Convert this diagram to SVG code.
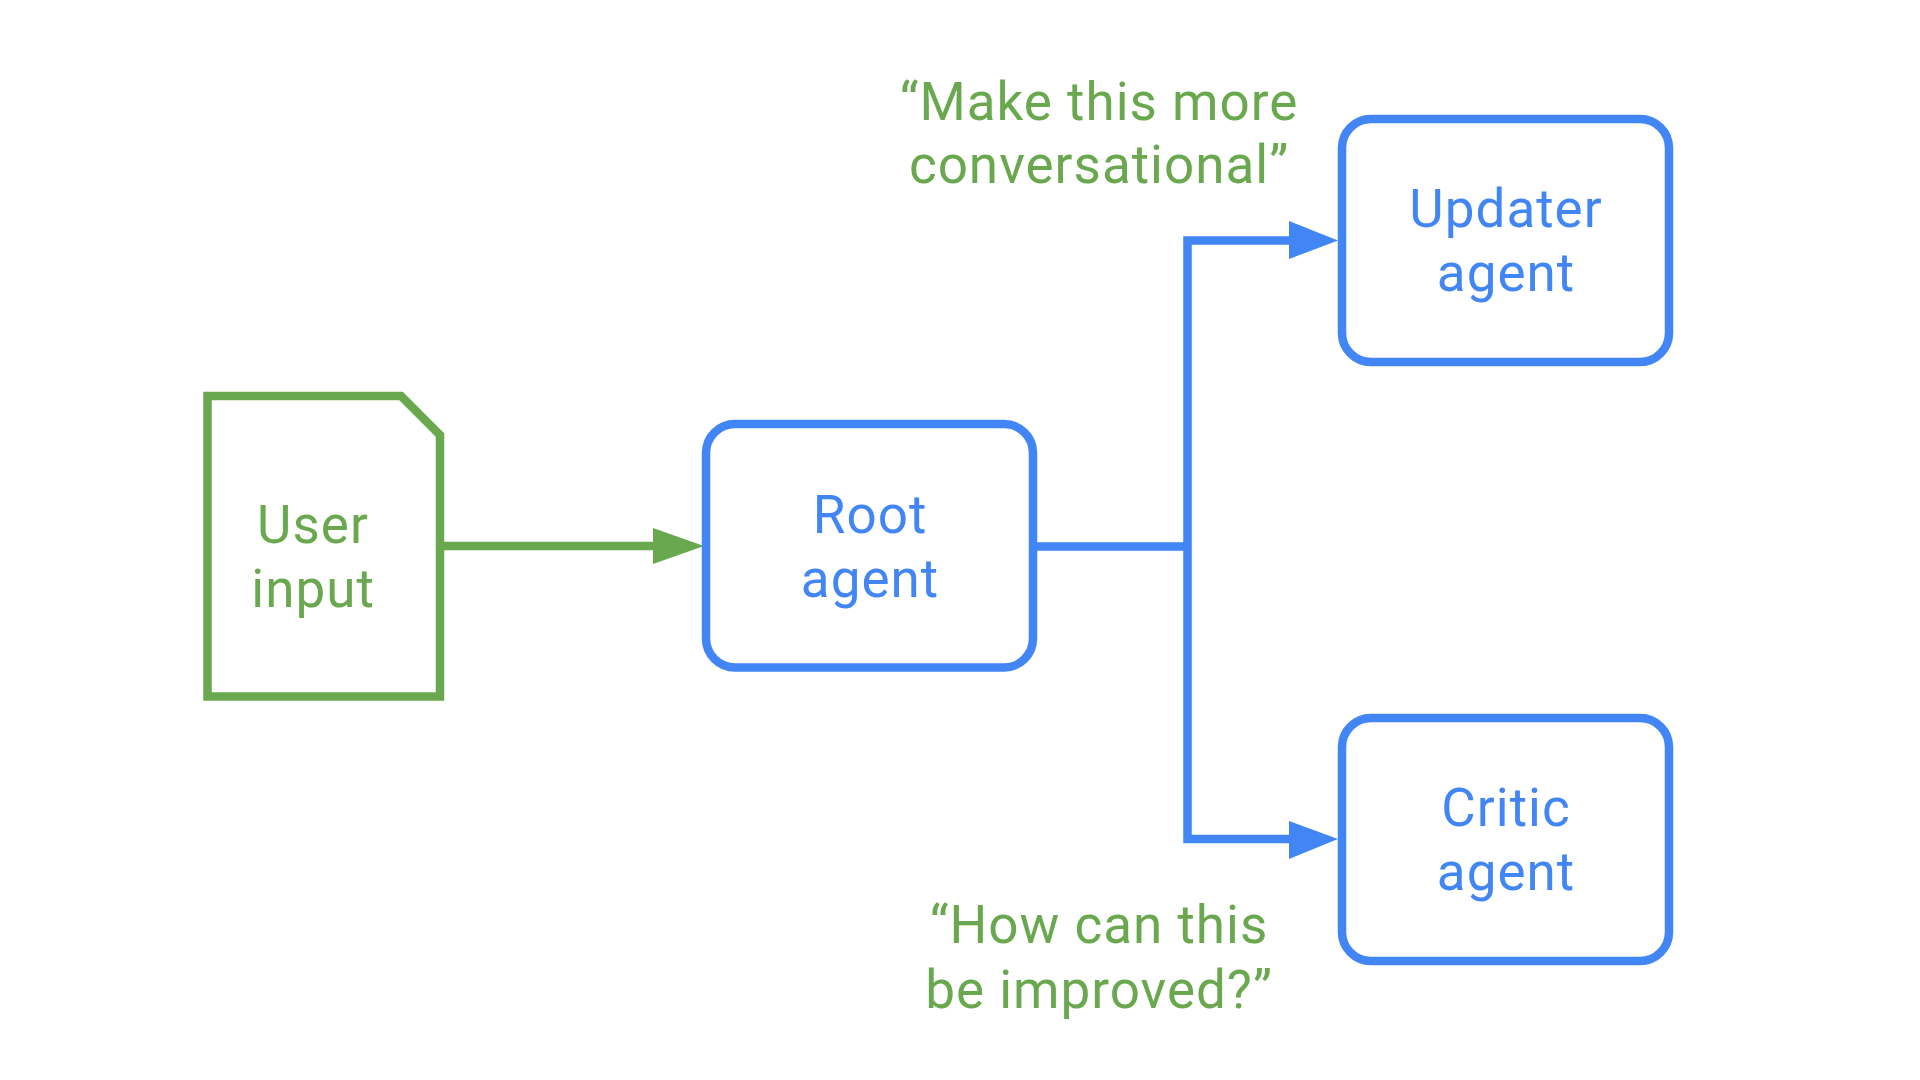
<svg xmlns="http://www.w3.org/2000/svg" width="1920" height="1080" viewBox="0 0 1920 1080">
<defs>
<style>
.g{fill:none;stroke:#6aa84f;stroke-width:8.5}
.b{fill:none;stroke:#4285f4;stroke-width:8.5}
.tg{fill:#6aa84f;font-family:Roboto,"Noto Sans",sans-serif;font-size:53px;letter-spacing:1px;text-anchor:middle}
.tb{fill:#4285f4;font-family:Roboto,"Noto Sans",sans-serif;font-size:53px;letter-spacing:1px;text-anchor:middle}
</style>
</defs>
<rect width="1920" height="1080" fill="#ffffff"/>
<g id="connectors">
<line class="g" x1="440" y1="546" x2="656" y2="546"/>
<polygon points="653,528 704,546 653,564" fill="#6aa84f"/>
<polyline class="b" points="1033,546.5 1187.5,546.5"/>
<polyline class="b" points="1292,240.5 1187.5,240.5 1187.5,839 1292,839"/>
<polygon points="1289,221 1338,240.5 1289,259" fill="#4285f4"/>
<polygon points="1289,821 1338,839 1289,859" fill="#4285f4"/>
</g>
<g id="user-input">
<path class="g" d="M207.5,396 H401 L440,435 V696.5 H207.5 Z"/>
<text class="tg" x="313" y="543">User</text>
<text class="tg" x="313" y="607">input</text>
</g>
<g id="root-agent">
<rect class="b" x="706" y="424" width="327" height="243.5" rx="29"/>
<text class="tb" x="870" y="533">Root</text>
<text class="tb" x="870" y="597">agent</text>
</g>
<g id="updater-agent">
<rect class="b" x="1342" y="119" width="327" height="243" rx="29"/>
<text class="tb" x="1506" y="227">Updater</text>
<text class="tb" x="1506" y="291">agent</text>
</g>
<g id="critic-agent">
<rect class="b" x="1342" y="718" width="327" height="243" rx="29"/>
<text class="tb" x="1506" y="826">Critic</text>
<text class="tb" x="1506" y="890">agent</text>
</g>
<g id="label-updater">
<text class="tg" x="1099" y="120">“Make this more</text>
<text class="tg" x="1099" y="183">conversational”</text>
</g>
<g id="label-critic">
<text class="tg" x="1099" y="943">“How can this</text>
<text class="tg" x="1099" y="1008">be improved?”</text>
</g>
</svg>
